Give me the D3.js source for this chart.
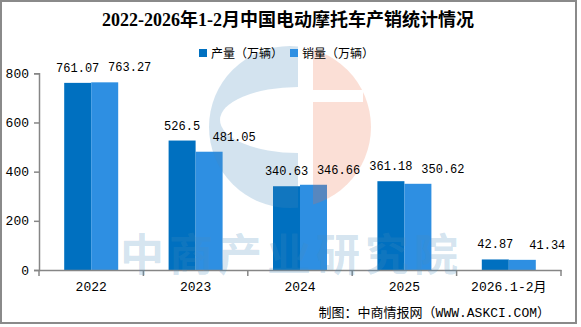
<!DOCTYPE html>
<html>
<head>
<meta charset="utf-8">
<script src="https://cdn.jsdelivr.net/npm/d3@7"></script>
<style>
  html, body { margin: 0; padding: 0; background: #fff; }
  svg { display: block; }
</style>
</head>
<body>
<div id="chart"></div>
<script>
const titleText = "2022-2026年1-2月中国电动摩托车产销统计情况";
const categories = ["2022", "2023", "2024", "2025", "2026.1-2月"];
const seriesNames = ["产量（万辆）", "销量（万辆）"];
const production = [761.07, 526.5, 340.63, 361.18, 42.87];
const sales = [763.27, 481.05, 346.66, 350.62, 41.34];
const yTicks = [0, 200, 400, 600, 800];
const sourceText = "制图：中商情报网（WWW.ASKCI.COM）";
const watermarkText = "中商产业研究院";

const W = 581, H = 327;
const colors = ["#0070c0", "#2e8fe2"];
const numFont = "'Liberation Mono', 'DejaVu Sans Mono', monospace";
const cjkFont = "'Noto Sans CJK SC', 'Liberation Sans', sans-serif";

const svg = d3.select("#chart").append("svg")
  .attr("width", W).attr("height", H);

svg.append("rect").attr("x", 0).attr("y", 0).attr("width", W).attr("height", H).attr("fill", "#fff");
svg.append("rect").attr("x", 1).attr("y", 1).attr("width", 575).attr("height", 322)
  .attr("fill", "none").attr("stroke", "#8a8a8a").attr("stroke-width", 2);

const x = d3.scaleBand().domain(categories).range([39, 561]).padding(0);
const barW = 27;
const x1 = d3.scaleBand().domain([0, 1])
  .range([x.bandwidth() / 2 - barW, x.bandwidth() / 2 + barW]).padding(0);
const y = d3.scaleLinear().domain([0, 800]).range([270, 73.3]);

const series = [production, sales];

// bars
series.forEach((vals, si) => {
  svg.append("g").selectAll("rect").data(vals).join("rect")
    .attr("x", (d, i) => x(categories[i]) + x1(si))
    .attr("y", d => y(d))
    .attr("width", x1.bandwidth())
    .attr("height", d => y(0) - y(d))
    .attr("fill", colors[si]);
});

// axes
const axisColor = "#868686";
const yAxis = svg.append("g").attr("transform", "translate(39,0)")
  .call(d3.axisLeft(y).tickValues(yTicks).tickSize(5).tickPadding(5).tickFormat(d3.format("d")));
yAxis.select(".domain").attr("stroke", axisColor).attr("stroke-width", 1.5);
yAxis.selectAll(".tick line").attr("stroke", axisColor).attr("stroke-width", 1.5);
yAxis.selectAll(".tick text").attr("font-family", numFont).attr("font-size", 13).attr("fill", "#000");

const xAxis = svg.append("g").attr("transform", "translate(0,270)")
  .call(d3.axisBottom(x).tickSize(0).tickPadding(12));
xAxis.select(".domain").attr("stroke", axisColor).attr("stroke-width", 1.5);
xAxis.selectAll(".tick text").attr("font-family", numFont + ", 'Noto Sans CJK SC'").attr("font-size", 13).attr("fill", "#000");
const bounds = categories.map(c => x(c)).concat([x.range()[1]]);
svg.append("g").selectAll("line").data(bounds).join("line")
  .attr("x1", d => d).attr("x2", d => d)
  .attr("y1", 270).attr("y2", 276)
  .attr("stroke", axisColor).attr("stroke-width", 1.5);

// watermark logo + text (overlay)
const defs = svg.append("defs");
const cx = 290, cy = 127, r = 81;
const mB = defs.append("mask").attr("id", "mB");
mB.append("rect").attr("x", 0).attr("y", 0).attr("width", 298).attr("height", H).attr("fill", "#fff");
mB.append("ellipse").attr("cx", 298).attr("cy", 120).attr("rx", 78).attr("ry", 33).attr("fill", "#000");
const mO = defs.append("mask").attr("id", "mO");
mO.append("rect").attr("x", 313).attr("y", 0).attr("width", W).attr("height", H).attr("fill", "#fff");
mO.append("rect").attr("x", 313).attr("y", 90).attr("width", 50).attr("height", 12).attr("fill", "#000");

svg.append("circle").attr("cx", cx).attr("cy", cy).attr("r", r)
  .attr("fill", "rgb(70,140,190)").attr("fill-opacity", 0.24).attr("mask", "url(#mB)");
svg.append("circle").attr("cx", cx).attr("cy", cy).attr("r", r)
  .attr("fill", "rgb(235,110,70)").attr("fill-opacity", 0.22).attr("mask", "url(#mO)");

svg.append("text").attr("x", 120).attr("y", 271)
  .attr("font-family", cjkFont).attr("font-weight", "bold").attr("font-size", 44)
  .attr("letter-spacing", 5)
  .attr("fill", "rgb(70,140,190)").attr("fill-opacity", 0.24)
  .text(watermarkText);

// data labels
const labelShift = [0, 25];
series.forEach((vals, si) => {
  svg.append("g").selectAll("text").data(vals).join("text")
    .attr("x", (d, i) => x(categories[i]) + x1(si) + x1.bandwidth() / 2 + labelShift[si])
    .attr("y", d => y(d) - 11)
    .attr("text-anchor", "middle")
    .attr("font-family", numFont).attr("font-size", 12).attr("fill", "#000")
    .text(d => d);
});

// title
svg.append("text").attr("x", 288).attr("y", 26).attr("text-anchor", "middle")
  .attr("font-family", "'Liberation Serif', 'Noto Sans CJK SC', serif")
  .attr("font-weight", "bold").attr("font-size", 18).attr("fill", "#000")
  .text(titleText);

// legend
const legendX = [199, 290];
seriesNames.forEach((name, si) => {
  svg.append("rect").attr("x", legendX[si]).attr("y", 49).attr("width", 8).attr("height", 8)
    .attr("fill", colors[si]);
  svg.append("text").attr("x", legendX[si] + 12).attr("y", 57.5)
    .attr("font-family", cjkFont).attr("font-size", 12).attr("fill", "#000")
    .text(name);
});

// source
svg.append("text").attr("x", 550).attr("y", 317).attr("text-anchor", "end")
  .attr("font-family", "'Liberation Mono', 'Noto Sans CJK SC', monospace")
  .attr("font-size", 13).attr("fill", "#000")
  .text(sourceText);
</script>
</body>
</html>
